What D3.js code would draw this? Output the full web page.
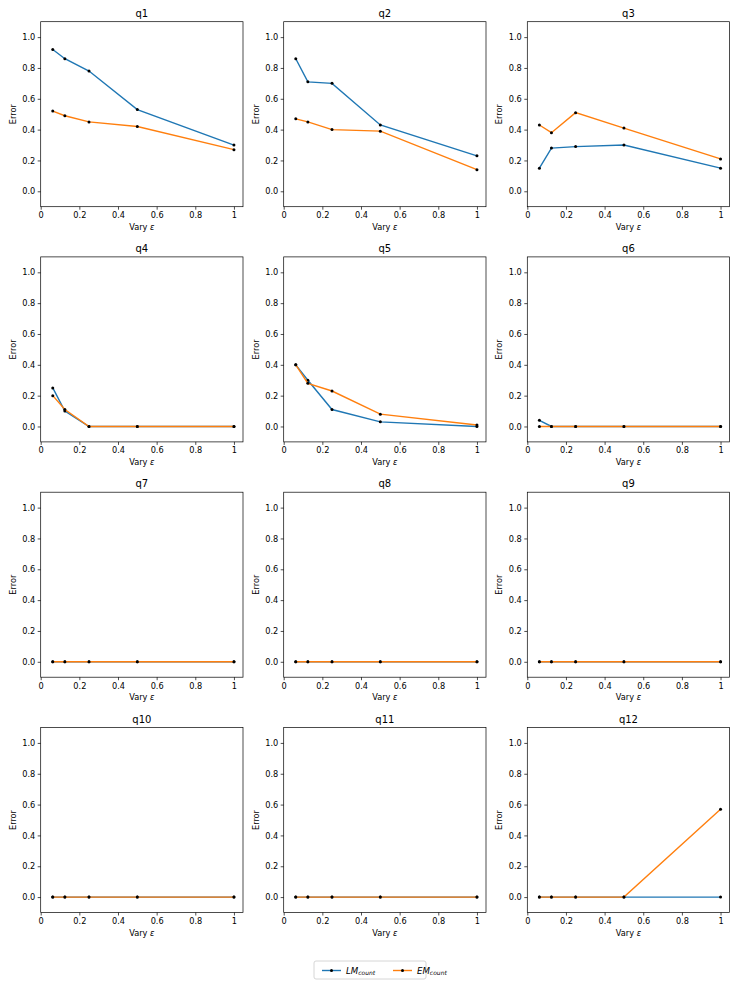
<!DOCTYPE html>
<html>
<head>
<meta charset="utf-8">
<script src="https://cdn.jsdelivr.net/npm/d3@7"></script>
<style>
  body { margin: 0; background: #fff; }
  svg text { font-family: "DejaVu Sans", sans-serif; fill: #000; }
  .tick text { font-size: 8.2px; }
  .title { font-size: 10px; }
  .label { font-size: 8.2px; }
</style>
</head>
<body>
<svg width="739" height="985"></svg>
<script>
// epsilon values shared by every panel
var epsilons = [0.0625, 0.125, 0.25, 0.5, 1];
var queries = ['q1', 'q2', 'q3', 'q4', 'q5', 'q6', 'q7', 'q8', 'q9', 'q10', 'q11', 'q12'];

// error per query, one row per query, one value per epsilon
var lmErrors = [
    [0.92, 0.86, 0.78, 0.53, 0.30],
    [0.86, 0.71, 0.70, 0.43, 0.23],
    [0.15, 0.28, 0.29, 0.30, 0.15],
    [0.25, 0.10, 0.00, 0.00, 0.00],
    [0.40, 0.30, 0.11, 0.03, 0.00],
    [0.04, 0.00, 0.00, 0.00, 0.00],
    [0.00, 0.00, 0.00, 0.00, 0.00],
    [0.00, 0.00, 0.00, 0.00, 0.00],
    [0.00, 0.00, 0.00, 0.00, 0.00],
    [0.00, 0.00, 0.00, 0.00, 0.00],
    [0.00, 0.00, 0.00, 0.00, 0.00],
    [0.00, 0.00, 0.00, 0.00, 0.00]
];
var emErrors = [
    [0.52, 0.49, 0.45, 0.42, 0.27],
    [0.47, 0.45, 0.40, 0.39, 0.14],
    [0.43, 0.38, 0.51, 0.41, 0.21],
    [0.20, 0.11, 0.00, 0.00, 0.00],
    [0.40, 0.28, 0.23, 0.08, 0.01],
    [0.00, 0.00, 0.00, 0.00, 0.00],
    [0.00, 0.00, 0.00, 0.00, 0.00],
    [0.00, 0.00, 0.00, 0.00, 0.00],
    [0.00, 0.00, 0.00, 0.00, 0.00],
    [0.00, 0.00, 0.00, 0.00, 0.00],
    [0.00, 0.00, 0.00, 0.00, 0.00],
    [0.00, 0.00, 0.00, 0.00, 0.57]
];
var xTicks = [0, 0.2, 0.4, 0.6, 0.8, 1];
var xTickLabels = ['0', '0.2', '0.4', '0.6', '0.8', '1'];
var yTicks = [0.0, 0.2, 0.4, 0.6, 0.8, 1.0];
var seriesNames = ['LM', 'EM'];
var seriesColors = ['#1f77b4', '#ff7f0e'];

var svg = d3.select('svg');

// panel geometry (pixels)
var colLeft = [40.7, 283.7, 527.3];
var rowTop = [21.7, 256.9, 492.2, 727.5];
var panelW = 202.3;
var panelH = 185;

var xScale = d3.scaleLinear().domain([0, 1.046875]).range([0, panelW]);
var yScale = d3.scaleLinear().domain([-0.1, 1.1]).range([panelH, 0]);

var line = d3.line()
    .x(function(d, i) { return xScale(epsilons[i]); })
    .y(function(d) { return yScale(d); });

queries.forEach(function(q, qi) {
    var tx = colLeft[qi % 3];
    var ty = rowTop[Math.floor(qi / 3)];
    var g = svg.append('g').attr('transform', 'translate(' + [tx, ty] + ')');

    var xAxis = d3.axisBottom(xScale)
        .tickValues(xTicks)
        .tickFormat(function(d, i) { return xTickLabels[i]; })
        .tickSize(3).tickPadding(2.5);
    var yAxis = d3.axisLeft(yScale)
        .tickValues(yTicks)
        .tickFormat(d3.format('.1f'))
        .tickSize(3).tickPadding(2.5);

    g.append('g').attr('transform', 'translate(0,' + panelH + ')').call(xAxis)
        .call(function(a) { a.select('.domain').remove(); });
    g.append('g').call(yAxis)
        .call(function(a) { a.select('.domain').remove(); });
    g.selectAll('.tick line').attr('stroke', '#000').attr('stroke-width', 0.7);

    // series: LM first, EM drawn on top
    [lmErrors[qi], emErrors[qi]].forEach(function(vals, si) {
        g.append('path')
            .attr('d', line(vals))
            .attr('fill', 'none')
            .attr('stroke', seriesColors[si])
            .attr('stroke-width', 1.4);
        g.selectAll(null)
            .data(vals)
            .enter()
            .append('circle')
            .attr('cx', function(d, i) { return xScale(epsilons[i]); })
            .attr('cy', function(d) { return yScale(d); })
            .attr('r', 1.5)
            .attr('fill', '#000');
    });

    g.append('rect')
        .attr('width', panelW).attr('height', panelH)
        .attr('fill', 'none').attr('stroke', '#000').attr('stroke-width', 0.7);

    g.append('text').attr('class', 'title')
        .attr('x', panelW / 2).attr('y', -5)
        .attr('text-anchor', 'middle').text(q);

    var xl = g.append('text').attr('class', 'label')
        .attr('x', panelW / 2).attr('y', panelH + 23)
        .attr('text-anchor', 'middle');
    xl.append('tspan').text('Vary ');
    xl.append('tspan').attr('font-style', 'italic').text('ε');

    g.append('text').attr('class', 'label')
        .attr('transform', 'translate(-25,' + (panelH / 2) + ') rotate(-90)')
        .attr('text-anchor', 'middle').text('Error');
});

// legend
var legend = svg.append('g').attr('transform', 'translate(314,961)');
legend.append('rect')
    .attr('width', 112).attr('height', 18).attr('rx', 2)
    .attr('fill', '#fff').attr('stroke', '#ccc').attr('stroke-width', 0.8);

seriesNames.forEach(function(name, i) {
    var lx = 8 + i * 71;
    var e = legend.append('g').attr('transform', 'translate(' + lx + ',9.5)');
    e.append('line').attr('x1', 0).attr('x2', 19)
        .attr('stroke', seriesColors[i]).attr('stroke-width', 1.4);
    e.append('circle').attr('cx', 9.5).attr('r', 1.5).attr('fill', '#000');
    var t = e.append('text').attr('x', 24).attr('y', 3)
        .attr('font-size', '8.6px').attr('font-style', 'italic');
    t.append('tspan').text(name);
    t.append('tspan').attr('font-size', '6px').attr('dy', 1.8).text('count');
});
</script>
</body>
</html>
